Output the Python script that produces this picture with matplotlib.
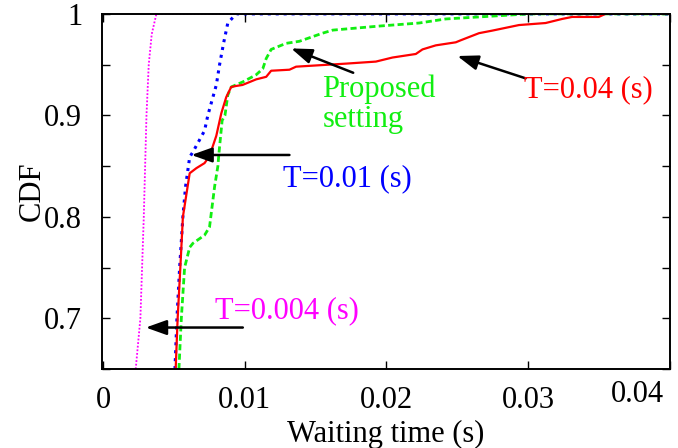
import matplotlib
import matplotlib.pyplot as plt
import matplotlib.transforms as mtransforms
from matplotlib.ticker import MultipleLocator

matplotlib.use('Agg')

plt.rcParams['font.family'] = ['Liberation Serif', 'DejaVu Serif']

# waiting time (s) vs CDF for each setting
t004_x = [0.00230, 0.00263, 0.00287, 0.00306, 0.00322, 0.00343, 0.00376, 0.0400]
t004_y = [0.65, 0.70, 0.80, 0.90, 0.95, 0.98, 1.00, 1.00]

t001_x = [0.00507, 0.00521, 0.00540, 0.00563, 0.00582, 0.00611, 0.00634, 0.00681,
          0.00716, 0.00739, 0.00799, 0.00822, 0.00850, 0.00880, 0.00939, 0.0400]
t001_y = [0.65, 0.70, 0.75, 0.80, 0.83, 0.859, 0.864, 0.876,
          0.885, 0.90, 0.93, 0.95, 0.971, 0.991, 1.00, 1.00]

t004s_x = [0.00512, 0.00526, 0.00545, 0.00563, 0.00611, 0.00658, 0.00716, 0.00751,
           0.00799, 0.00834, 0.00869, 0.00904, 0.00939, 0.00984, 0.01080, 0.01151,
           0.01186, 0.01315, 0.01362, 0.01596, 0.01714, 0.01925, 0.02042, 0.02207,
           0.02254, 0.02348, 0.02489, 0.02524, 0.02653, 0.02746, 0.02935, 0.03123,
           0.03239, 0.03310, 0.03498, 0.03545, 0.0400]
t004s_y = [0.65, 0.70, 0.75, 0.80, 0.843, 0.848, 0.853, 0.86,
           0.88, 0.902, 0.918, 0.928, 0.929, 0.930, 0.9355, 0.938,
           0.944, 0.945, 0.948, 0.950, 0.951, 0.953, 0.957, 0.9605,
           0.965, 0.969, 0.972, 0.974, 0.981, 0.9835, 0.989, 0.991,
           0.995, 0.997, 0.997, 1.00, 1.00]

prop_x = [0.00535, 0.00552, 0.00575, 0.00611, 0.00634, 0.00716, 0.00751, 0.00787,
          0.00810, 0.00817, 0.00840, 0.00860, 0.00880, 0.00904, 0.00986, 0.01080,
          0.01127, 0.01151, 0.01186, 0.01292, 0.01385, 0.01549, 0.01620, 0.01949,
          0.02230, 0.02418, 0.02653, 0.02887, 0.03005, 0.0400]
prop_y = [0.65, 0.70, 0.75, 0.77, 0.774, 0.782, 0.790, 0.830,
          0.85, 0.862, 0.895, 0.90, 0.92, 0.928, 0.933, 0.940,
          0.946, 0.956, 0.965, 0.971, 0.973, 0.981, 0.984, 0.988,
          0.991, 0.995, 0.997, 0.999, 1.00, 1.00]

x_ticks = [0, 0.01, 0.02, 0.03, 0.04]
x_tick_labels = ['0', '0.01', '0.02', '0.03', '0.04']
y_ticks = [0.7, 0.8, 0.9, 1.0]
y_tick_labels = ['0.7', '0.8', '0.9', '1']

fig = plt.figure(figsize=(6.78, 4.48), dpi=100)
ax = fig.add_axes([0.150, 0.176, 0.838, 0.793])

ax.plot(t004_x, t004_y, color='#ff00ff', linestyle=(0, (1, 1)), linewidth=1.3)
ax.plot(t001_x, t001_y, color='#0000ff', linestyle=(0, (1, 1.6)), linewidth=2.2)
ax.plot(prop_x, prop_y, color='#11ee11', linestyle=(0, (2.2, 1.2)), linewidth=2.0)
ax.plot(t004s_x, t004s_y, color='#ff0000', linestyle='-', linewidth=1.6)

# arrows pointing at each curve, with its label
arrow = dict(arrowstyle='-|>,head_length=0.7,head_width=0.25', color='black',
             linewidth=1.8, mutation_scale=18, shrinkA=0, shrinkB=0)
ax.annotate('', xy=(0.00623, 0.861), xytext=(0.01315, 0.861), arrowprops=arrow)
ax.annotate('', xy=(0.00301, 0.691), xytext=(0.00986, 0.691), arrowprops=arrow)
ax.annotate('', xy=(0.01327, 0.966), xytext=(0.01765, 0.942), arrowprops=arrow)
ax.annotate('', xy=(0.0250, 0.9585), xytext=(0.02982, 0.9365), arrowprops=arrow)

ax.text(0.01273, 0.838, 'T=0.01 (s)', color='#0000ff', fontsize=22, va='center', ha='left')
ax.text(0.00787, 0.708, 'T=0.004 (s)', color='#ff00ff', fontsize=22, va='center', ha='left')
ax.text(0.01547, 0.911, 'Proposed\nsetting', color='#11ee11', fontsize=22,
        va='center', ha='left', linespacing=1.05)
ax.text(0.02970, 0.925, 'T=0.04 (s)', color='#ff0000', fontsize=22, va='center', ha='left')

ax.set_xlim(-0.0001, 0.0400)
ax.set_ylim(0.65, 1.0)
ax.set_xticks(x_ticks)
ax.set_xticklabels(x_tick_labels)
ax.set_yticks(y_ticks)
ax.set_yticklabels(y_tick_labels)
ax.yaxis.set_minor_locator(MultipleLocator(0.05))

ax.tick_params(axis='both', which='both', direction='in', top=True, right=True,
               length=6, width=1.0, labelsize=22)
ax.tick_params(axis='x', pad=12)
ax.tick_params(axis='y', pad=14)
for s in ax.spines.values():
    s.set_linewidth(1.4)

# last x label sits against the right edge, pull it inside
last = ax.get_xticklabels()[-1]
last.set_transform(last.get_transform() + mtransforms.ScaledTranslation(-0.32, 0.06, fig.dpi_scale_trans))

ax.set_xlabel('Waiting time (s)', fontsize=22, labelpad=4)
ax.set_ylabel('CDF', fontsize=22, labelpad=-2)

fig.savefig('out.png', dpi=100)
